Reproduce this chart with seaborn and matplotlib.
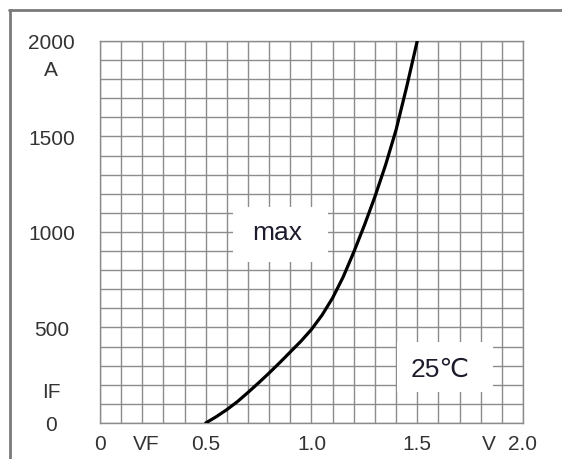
import matplotlib
matplotlib.use("Agg")
import matplotlib.pyplot as plt
import seaborn as sns
from matplotlib.ticker import MultipleLocator
from matplotlib.patches import Rectangle
from matplotlib.lines import Line2D

# forward characteristic (max, 25 C)
vf = [0.5, 0.55, 0.6, 0.65, 0.7, 0.75, 0.8, 0.85, 0.9, 0.95, 1.0, 1.05,
      1.1, 1.15, 1.2, 1.25, 1.3, 1.35, 1.4, 1.45, 1.5]
i_f = [0, 33, 70, 112, 160, 210, 262, 316, 372, 428, 490, 565,
       655, 765, 895, 1035, 1185, 1350, 1535, 1760, 2000]

x_ticks = [0, 0.22, 0.5, 1.0, 1.5, 1.84, 2.0]
x_labels = ["0", "VF", "0.5", "1.0", "1.5", "V", "2.0"]
y_ticks = [0, 175, 500, 1000, 1500, 1860, 2000]
y_labels = ["0", "IF", "500", "1000", "1500", "A", "2000"]

sns.set_style("white")
plt.rcParams['font.family'] = ['Liberation Sans', 'DejaVu Sans']

fig = plt.figure(figsize=(5.62, 4.60), dpi=100)
ax = fig.add_axes([0.1779, 0.0783, 0.7527, 0.8304])

grid_c = "#8c8c8c"
text_c = "#333333"

sns.lineplot(x=vf, y=i_f, ax=ax, color="black", lw=2.3, zorder=3)

ax.set_xlim(0, 2.0)
ax.set_ylim(0, 2000)

ax.set_xticks(x_ticks)
ax.set_xticklabels(x_labels)
ax.set_yticks(y_ticks)
ax.set_yticklabels(y_labels, ha="center")

# grid every 0.1 V / 100 A
ax.xaxis.set_minor_locator(MultipleLocator(0.1))
ax.yaxis.set_minor_locator(MultipleLocator(100))
ax.xaxis.remove_overlapping_locs = False
ax.yaxis.remove_overlapping_locs = False
ax.set_axisbelow(True)
ax.grid(which="major", visible=False)
ax.grid(which="minor", color=grid_c, lw=1.0)

ax.tick_params(which="both", length=0)
ax.tick_params(axis="x", pad=8, labelsize=15, colors=text_c)
ax.tick_params(axis="y", pad=35, labelsize=15, colors=text_c)

for s in ax.spines.values():
    s.set_color(grid_c)
    s.set_linewidth(1.0)

# white label boxes on the grid
ax.add_patch(Rectangle((0.629, 843), 0.449, 288, facecolor="white",
                       edgecolor="none", zorder=1))
ax.add_patch(Rectangle((1.404, 162), 0.454, 262, facecolor="white",
                       edgecolor="none", zorder=1))
ax.text(0.837, 1000, "max", ha="center", va="center", fontsize=19,
        color="#1c1c2c", zorder=4)
ax.text(1.61, 283, "25℃", ha="center", va="center", fontsize=19,
        color="#1c1c2c", zorder=4, family=['Liberation Sans', 'DejaVu Sans'])

# outer frame (left and top edges)
fig.add_artist(Line2D([0.017, 0.017], [0.0, 0.976], color="#7a7a7a", lw=2.0))
fig.add_artist(Line2D([0.016, 1.0], [0.976, 0.976], color="#7a7a7a", lw=2.0))

plt.savefig("out.png", dpi=100)
plt.close()
